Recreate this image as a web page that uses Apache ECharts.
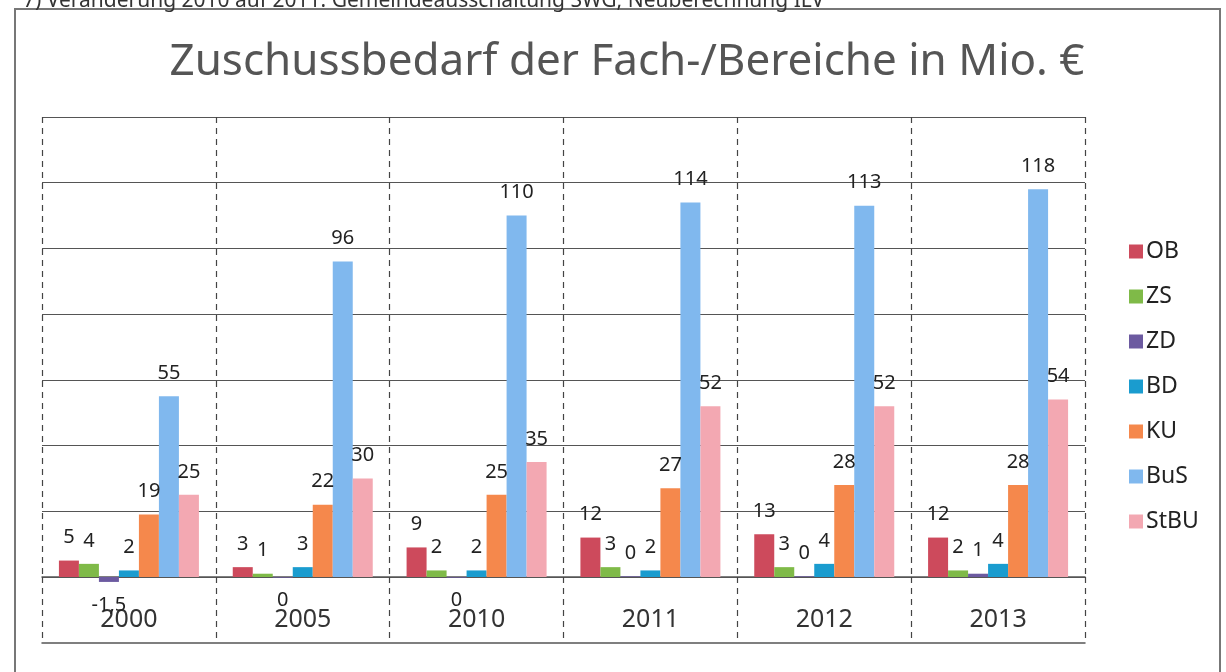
<!DOCTYPE html>
<html>
<head>
<meta charset="utf-8">
<script src="https://cdn.jsdelivr.net/npm/echarts@6/dist/echarts.min.js"></script>
<style>
  html, body { margin: 0; padding: 0; background: #fff; }
  #chart { width: 1226px; height: 672px; }
</style>
</head>
<body>
<div id="chart"></div>
<script>
const years = ['2000', '2005', '2010', '2011', '2012', '2013']
const names = ['OB', 'ZS', 'ZD', 'BD', 'KU', 'BuS', 'StBU']

const ob = [5, 3, 9, 12, 13, 12]
const zs = [4, 1, 2, 3, 3, 2]
const zd = [-1.5, -0.2, -0.2, 0.2, 0.2, 1]
const bd = [2, 3, 2, 2, 4, 4]
const ku = [19, 22, 25, 27, 28, 28]
const bus = [55, 96, 110, 114, 113, 118]
const stbu = [25, 30, 35, 52, 52, 54]

const colors = ['#cd4a5c', '#7fba48', '#6c5aa0', '#1a9ccf', '#f5884c', '#80b8ee', '#f3a8b2']
const values = [ob, zs, zd, bd, ku, bus, stbu]

const chart = echarts.init(document.getElementById('chart'))

// values under 0.5 show as 0, decimals with a comma
function fmt(p) {
  const v = Math.abs(p.value) < 0.5 ? 0 : p.value
  return String(v).replace('.', ',')
}

chart.setOption({
  animation: false,
  textStyle: { fontFamily: 'Noto Sans' },
  title: [
    {
      text: 'Zuschussbedarf der Fach-/Bereiche in Mio. €',
      left: 622,
      top: 35,
      textAlign: 'center',
      textStyle: { fontSize: 44, fontWeight: 'normal', color: '#555', fontFamily: 'Noto Sans' },
    },
    {
      text: '7) Veränderung 2010 auf 2011: Gemeindeausschaltung SWG, Neuberechnung ILV',
      left: 18,
      top: -14,
      textStyle: { fontSize: 21, fontWeight: 'normal', color: '#333', fontFamily: 'Noto Sans' },
    },
  ],
  graphic: [
    {
      type: 'rect',
      shape: { x: 15, y: 9, width: 1205, height: 700 },
      style: { fill: 'none', stroke: '#777', lineWidth: 2 },
      silent: true,
    },
  ],
  legend: {
    orient: 'vertical',
    left: 1124,
    top: 235,
    itemGap: 22,
    itemWidth: 14,
    itemHeight: 14,
    icon: 'rect',
    textStyle: { fontSize: 23, color: '#222', padding: [0, 0, 0, -2] },
    data: names,
  },
  grid: { left: 42, right: 141, top: 117, bottom: 95 },
  xAxis: [
    {
      type: 'category',
      data: years,
      axisLine: { show: true, lineStyle: { color: '#555', width: 1.5 } },
      axisTick: { show: true, length: 66, lineStyle: { color: '#444', type: [6, 5], width: 1.2 } },
      axisLabel: { fontSize: 25, color: '#333', margin: 30 },
      splitLine: { show: true, lineStyle: { color: '#444', type: [6, 5], width: 1.2 } },
    },
    {
      type: 'category',
      data: years,
      position: 'bottom',
      offset: 66,
      axisLine: { show: true, lineStyle: { color: '#555', width: 1.5 } },
      axisTick: { show: false },
      axisLabel: { show: false },
      splitLine: { show: false },
    },
  ],
  yAxis: {
    type: 'value',
    min: 0,
    max: 140,
    interval: 20,
    axisLabel: { show: false },
    axisLine: { show: false },
    axisTick: { show: false },
    splitLine: { show: true, lineStyle: { color: '#555', width: 1.2 } },
  },
  series: names.map((n, i) => ({
    name: n,
    type: 'bar',
    data: values[i],
    barWidth: 20,
    barGap: '0%',
    clip: false,
    itemStyle: { color: colors[i] },
    label: {
      show: true,
      position: 'outside',
      distance: 13,
      fontSize: 20,
      color: '#222',
      formatter: fmt,
    },
  })),
})
</script>
</body>
</html>
